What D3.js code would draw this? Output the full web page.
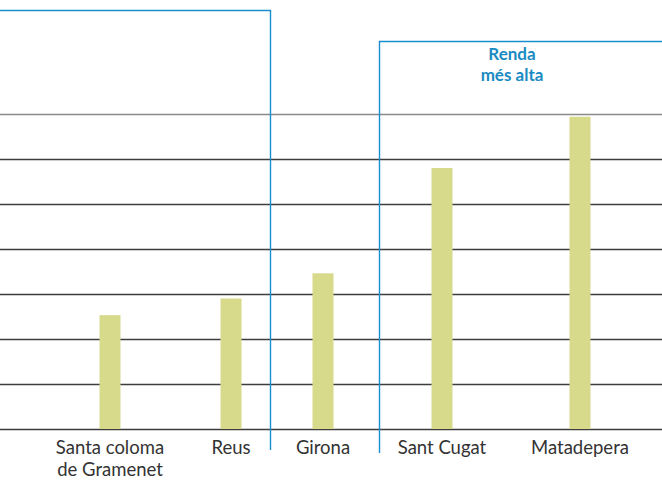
<!DOCTYPE html>
<html>
<head>
<meta charset="utf-8">
<style>
  body { margin: 0; background: #fff; }
  .label { font: 18.5px Lato, "Open Sans", sans-serif; fill: #333; text-anchor: middle; }
  .note { font: bold 17px Lato, "Open Sans", sans-serif; fill: #1a8bc2; text-anchor: middle; }
</style>
</head>
<body>
<svg id="chart"></svg>
<script src="https://cdn.jsdelivr.net/npm/d3@7"></script>
<script>
// data
var categories = ["Santa coloma\nde Gramenet", "Reus", "Girona", "Sant Cugat", "Matadepera"];
var values = [2.53, 2.9, 3.46, 5.8, 6.94];
var gridTicks = [0, 1, 2, 3, 4, 5, 6, 7];
var noteLines = ["Renda", "més alta"];

var width = 662, height = 480;
var baseY = 429, topY = 114;
var barW = 21;

var svg = d3.select("#chart").attr("width", width).attr("height", height);

var x = d3.scaleOrdinal()
  .domain(categories)
  .range([110, 231, 323, 442, 580]);

var y = d3.scaleLinear()
  .domain([0, 7])
  .range([baseY, topY]);

// gridlines
svg.append("g")
  .selectAll("line")
  .data(gridTicks)
  .enter().append("line")
    .attr("x1", 0)
    .attr("x2", width)
    .attr("y1", d => y(d) + 0.5)
    .attr("y2", d => y(d) + 0.5)
    .attr("stroke", d => d === 7 ? "#8a8a8a" : "#3d3d3d")
    .attr("stroke-width", 1.3);

// highlight boxes
var blue = "#1a8fcf";
svg.append("path")
  .attr("d", "M-5,10.5H270.5V450")
  .attr("fill", "none")
  .attr("stroke", blue)
  .attr("stroke-width", 1.4);

svg.append("path")
  .attr("d", "M379.5,453V41.5H667")
  .attr("fill", "none")
  .attr("stroke", blue)
  .attr("stroke-width", 1.4);

// bars
svg.append("g")
  .selectAll("rect")
  .data(values)
  .enter().append("rect")
    .attr("x", (d, i) => x(categories[i]) - barW / 2)
    .attr("y", d => y(d))
    .attr("width", barW)
    .attr("height", d => y(0) - y(d))
    .attr("fill", "#d7d98b");

// category labels
var labels = svg.append("g")
  .selectAll("text")
  .data(categories)
  .enter().append("text")
    .attr("class", "label")
    .attr("x", d => x(d))
    .attr("y", 454);

labels.selectAll("tspan")
  .data(d => d.split("\n").map(t => ({ t: t, c: d })))
  .enter().append("tspan")
    .attr("x", d => x(d.c))
    .attr("dy", (d, i) => i === 0 ? 0 : 22)
    .text(d => d.t);

// note
svg.append("g")
  .selectAll("text")
  .data(noteLines)
  .enter().append("text")
    .attr("class", "note")
    .attr("x", 512)
    .attr("y", (d, i) => 60 + i * 20.5)
    .text(d => d);
</script>
</body>
</html>
